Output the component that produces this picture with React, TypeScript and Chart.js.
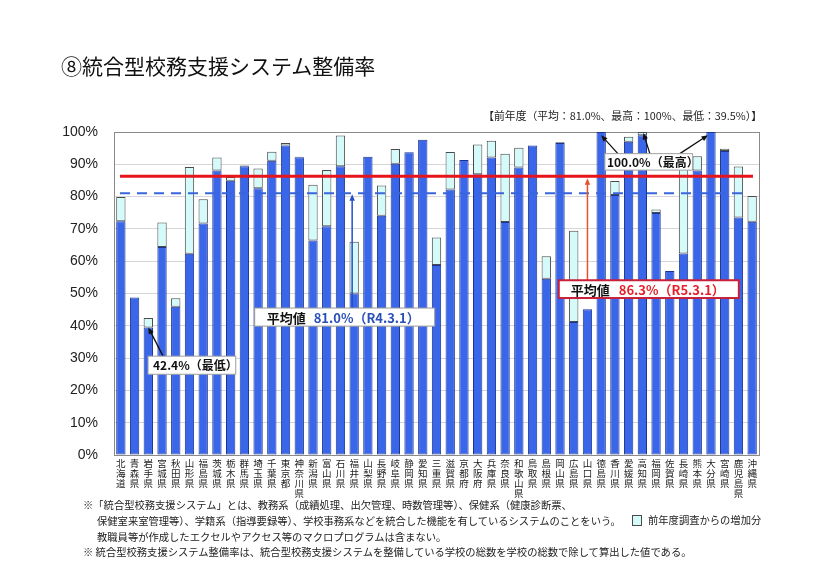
import React, { useEffect, useRef } from "react";
import { Chart, registerables } from "chart.js";

Chart.register(...registerables);

// ---- data ----
const prefectures = [
  "北海道", "青森県", "岩手県", "宮城県", "秋田県", "山形県", "福島県", "茨城県", "栃木県", "群馬県",
  "埼玉県", "千葉県", "東京都", "神奈川県", "新潟県", "富山県", "石川県", "福井県", "山梨県", "長野県",
  "岐阜県", "静岡県", "愛知県", "三重県", "滋賀県", "京都府", "大阪府", "兵庫県", "奈良県", "和歌山県",
  "鳥取県", "島根県", "岡山県", "広島県", "山口県", "徳島県", "香川県", "愛媛県", "高知県", "福岡県",
  "佐賀県", "長崎県", "熊本県", "大分県", "宮崎県", "鹿児島県", "沖縄県",
];

// 前年度 (R4.3.1) rate, %
const previousRates = [
  72.4, 48.8, 39.5, 64.4, 45.9, 62.3, 71.7, 88.1, 84.9, 89.4,
  82.6, 91.1, 95.8, 92.2, 66.4, 70.8, 89.4, 50.0, 92.3, 74.1,
  90.2, 93.7, 97.6, 58.8, 82.2, 91.3, 86.9, 92.1, 72.1, 89.0,
  95.8, 54.6, 96.6, 41.2, 45.1, 100.0, 80.5, 97.0, 99.0, 74.9,
  57.0, 62.4, 88.1, 100.0, 94.1, 73.5, 72.2,
];

// 今年度 (R5.3.1) rate, %
const currentRates = [
  79.9, 48.8, 42.4, 72.0, 48.5, 89.2, 79.2, 92.1, 86.1, 89.6,
  88.7, 93.9, 96.6, 92.3, 83.7, 88.2, 98.9, 66.0, 92.3, 83.4,
  94.7, 93.7, 97.6, 67.3, 93.8, 91.3, 96.1, 97.3, 93.3, 95.1,
  95.8, 61.5, 96.8, 69.4, 45.1, 100.0, 84.8, 98.5, 100.0, 76.0,
  57.0, 90.0, 92.5, 100.0, 94.8, 89.3, 80.2,
];

const increaseRates = currentRates.map((v, i) => {
  const d = Math.round((v - previousRates[i]) * 10) / 10;
  return d > 0 ? d : null;
});

const yTickValues = [0, 10, 20, 30, 40, 50, 60, 70, 80, 90, 100];

const CURRENT_AVERAGE = 86.3;
const PREVIOUS_AVERAGE = 81.0;
const HIGHEST_RATE = 100.0;
const LOWEST_RATE = 42.4;

const TITLE = "⑧統合型校務支援システム整備率";
const PREV_NOTE = "【前年度（平均：81.0%、最高：100%、最低：39.5%）】";
const NOTE_LINES = [
  "※「統合型校務支援システム」とは、教務系（成績処理、出欠管理、時数管理等）、保健系（健康診断票、",
  "保健室来室管理等）、学籍系（指導要録等）、学校事務系などを統合した機能を有しているシステムのことをいう。",
  "教職員等が作成したエクセルやアクセス等のマクロプログラムは含まない。",
  "※ 統合型校務支援システム整備率は、統合型校務支援システムを整備している学校の総数を学校の総数で除して算出した値である。",
];
const LEGEND_LABEL = "前年度調査からの増加分";

const BLUE = "#3a66ea";
const BLUE_BORDER = "#1c3590";
const CYAN = "#d4fafa";
const CYAN_BORDER = "#4a4a4a";
const JP = "'Noto Sans CJK JP', 'Noto Sans', sans-serif";

function drawArrow(ctx: CanvasRenderingContext2D, x1: number, y1: number, x2: number, y2: number, color: string, width: number, head: number) {
  const ang = Math.atan2(y2 - y1, x2 - x1);
  ctx.save();
  ctx.strokeStyle = color;
  ctx.fillStyle = color;
  ctx.lineWidth = width;
  ctx.beginPath();
  ctx.moveTo(x1, y1);
  ctx.lineTo(x2 - Math.cos(ang) * head * 0.8, y2 - Math.sin(ang) * head * 0.8);
  ctx.stroke();
  ctx.beginPath();
  ctx.moveTo(x2, y2);
  ctx.lineTo(x2 - head * Math.cos(ang - 0.4), y2 - head * Math.sin(ang - 0.4));
  ctx.lineTo(x2 - head * Math.cos(ang + 0.4), y2 - head * Math.sin(ang + 0.4));
  ctx.closePath();
  ctx.fill();
  ctx.restore();
}

function drawBox(ctx: CanvasRenderingContext2D, x0: number, y0: number, x1: number, y1: number, border: string, lw: number) {
  ctx.save();
  ctx.fillStyle = "#ffffff";
  ctx.fillRect(x0, y0, x1 - x0, y1 - y0);
  ctx.strokeStyle = border;
  ctx.lineWidth = lw;
  ctx.strokeRect(x0, y0, x1 - x0, y1 - y0);
  ctx.restore();
}

function drawParts(ctx: CanvasRenderingContext2D, x: number, y: number, parts: { text: string; color: string; gap: number }[], font: string) {
  ctx.save();
  ctx.font = font;
  ctx.textBaseline = "middle";
  ctx.textAlign = "left";
  let cx = x;
  for (const p of parts) {
    cx += p.gap;
    ctx.fillStyle = p.color;
    ctx.fillText(p.text, cx, y);
    cx += ctx.measureText(p.text).width;
  }
  ctx.restore();
}

const overlayPlugin = {
  id: "overlay",
  beforeDatasetsDraw(chart: any) {
    const { ctx, chartArea: a } = chart;
    ctx.save();
    ctx.strokeStyle = "#8a8a8a";
    ctx.lineWidth = 1;
    ctx.strokeRect(Math.round(a.left) + 0.5, Math.round(a.top) + 0.5, Math.round(a.right - a.left), Math.round(a.bottom - a.top));
    ctx.restore();
  },
  afterDatasetsDraw(chart: any) {
    const { ctx, chartArea: a, scales } = chart;
    const y = scales.y;
    const n = prefectures.length;
    const cw = (a.right - a.left) / n;
    const px = (idx: number) => a.left + (idx + 0.5) * cw;
    const py = (v: number) => y.getPixelForValue(v);

    // previous average dashed line
    ctx.save();
    ctx.strokeStyle = "#3a66dd";
    ctx.lineWidth = 2;
    ctx.setLineDash([10, 7]);
    ctx.beginPath();
    ctx.moveTo(a.left + 6, py(PREVIOUS_AVERAGE));
    ctx.lineTo(a.right - 11, py(PREVIOUS_AVERAGE));
    ctx.stroke();
    ctx.restore();

    // current average red line
    ctx.save();
    ctx.strokeStyle = "#e8141c";
    ctx.lineWidth = 3;
    ctx.beginPath();
    ctx.moveTo(a.left + 6, py(CURRENT_AVERAGE));
    ctx.lineTo(a.right - 6, py(CURRENT_AVERAGE));
    ctx.stroke();
    ctx.restore();

    // previous average label + arrow
    const fukui = prefectures.indexOf("福井県");
    const bx0 = px(9.75), bx1 = px(22.87), by0 = py(45.5), by1 = py(39.9);
    drawArrow(ctx, px(fukui) - 2, by0, px(fukui) - 2, py(PREVIOUS_AVERAGE) + 1, "#2350c8", 1.5, 7);
    drawBox(ctx, bx0, by0, bx1, by1, "#9a9a9a", 1);
    drawParts(ctx, bx0 + 12, (by0 + by1) / 2 + 0.5, [
      { text: "平均値", color: "#111", gap: 0 },
      { text: `${PREVIOUS_AVERAGE.toFixed(1)}%（R4.3.1）`, color: "#2a4fb8", gap: 8 },
    ], `bold 13px ${JP}`);

    // current average label + arrow
    const yamaguchi = prefectures.indexOf("山口県");
    const rx0 = px(31.91), rx1 = px(45.03), ry0 = py(54.1), ry1 = py(48.6);
    drawArrow(ctx, px(yamaguchi), ry0, px(yamaguchi), py(CURRENT_AVERAGE) + 2, "#e8502e", 1.5, 7);
    drawBox(ctx, rx0, ry0, rx1, ry1, "#c8203a", 2);
    drawParts(ctx, rx0 + 12, (ry0 + ry1) / 2 + 0.5, [
      { text: "平均値", color: "#111", gap: 0 },
      { text: `${CURRENT_AVERAGE.toFixed(1)}%（R5.3.1）`, color: "#e8202a", gap: 9 },
    ], `bold 13px ${JP}`);

    // highest label + arrows
    const mx0 = px(35.27), mx1 = px(41.66), my0 = py(93.3), my1 = py(88.2);
    const tops = ["徳島県", "高知県", "大分県"].map((p) => prefectures.indexOf(p));
    drawArrow(ctx, mx0 + 13, my0, px(tops[0]), py(HIGHEST_RATE - 1), "#111", 1.3, 7);
    drawArrow(ctx, mx0 + 45, my0, px(tops[1]) + 1, py(HIGHEST_RATE) + 1, "#111", 1.3, 7);
    drawArrow(ctx, mx0 + 75, my0, px(tops[2]) - 3, py(HIGHEST_RATE - 1), "#111", 1.3, 7);
    drawBox(ctx, mx0, my0, mx1, my1, "#a0a0a0", 1);
    drawParts(ctx, mx0 + 2, (my0 + my1) / 2 + 0.5, [
      { text: `${HIGHEST_RATE.toFixed(1)}%（最高）`, color: "#111", gap: 0 },
    ], `bold 12px ${JP}`);

    // lowest label + arrow
    const iwate = prefectures.indexOf("岩手県");
    const lx0 = px(1.98), lx1 = px(8.37), ly0 = py(30.6), ly1 = py(25.0);
    drawArrow(ctx, lx0 + 15, ly0, px(iwate), py(previousRates[iwate]), "#111", 1.3, 7);
    drawBox(ctx, lx0, ly0, lx1, ly1, "#a0a0a0", 1);
    drawParts(ctx, lx0 + 5, (ly0 + ly1) / 2 + 0.5, [
      { text: `${LOWEST_RATE.toFixed(1)}%（最低）`, color: "#111", gap: 0 },
    ], `bold 12px ${JP}`);
  },
};

export default function App() {
  const ref = useRef<HTMLCanvasElement | null>(null);

  useEffect(() => {
    if (!ref.current) return;
    const chart = new Chart(ref.current, {
      type: "bar",
      data: {
        labels: prefectures.map((p) => Array.from(p)),
        datasets: [
          {
            label: "前年度",
            data: previousRates,
            backgroundColor: BLUE,
            borderColor: BLUE_BORDER,
            borderWidth: 1,
            borderSkipped: false,
            barPercentage: 0.68,
            categoryPercentage: 1,
          },
          {
            label: LEGEND_LABEL,
            data: increaseRates,
            backgroundColor: CYAN,
            borderColor: CYAN_BORDER,
            borderWidth: 1,
            borderSkipped: false,
            barPercentage: 0.68,
            categoryPercentage: 1,
          },
        ],
      },
      options: {
        responsive: false,
        animation: false,
        devicePixelRatio: 1,
        layout: { padding: { left: 0, top: 132, right: 67, bottom: 0 } },
        plugins: {
          legend: { display: false },
          tooltip: { enabled: false },
          title: { display: false },
        },
        scales: {
          x: {
            stacked: true,
            grid: { display: false, drawTicks: false },
            border: { display: true, color: "#8a8a8a" },
            ticks: {
              autoSkip: false,
              maxRotation: 0,
              minRotation: 0,
              padding: 3,
              color: "#222",
              font: { family: JP, size: 9.5, lineHeight: 1.05 },
            },
            afterFit: (s: any) => {
              s.height = 116;
            },
          },
          y: {
            stacked: true,
            min: 0,
            max: 100,
            afterBuildTicks: (s: any) => {
              s.ticks = yTickValues.map((v) => ({ value: v }));
            },
            ticks: {
              padding: 16,
              color: "#222",
              font: { family: "'Liberation Sans', Arial, sans-serif", size: 14 },
              callback: (v: any) => `${v}%`,
            },
            grid: { color: "#d6d6d6", drawTicks: false },
            border: { display: true, color: "#8a8a8a" },
            afterFit: (s: any) => {
              s.width = 114;
            },
          },
        },
      },
      plugins: [overlayPlugin],
    });
    return () => chart.destroy();
  }, []);

  const noteStyle = (left: number, cy: number): React.CSSProperties => ({
    position: "absolute",
    left,
    top: cy - 8,
    height: 16,
    lineHeight: "16px",
    fontFamily: JP,
    fontSize: 10.3,
    color: "#222",
    whiteSpace: "nowrap",
  });

  return (
    <div style={{ position: "absolute", left: 0, top: 0, width: 826, height: 571, background: "#fff", overflow: "hidden" }}>
      <canvas ref={ref} width={826} height={571} style={{ position: "absolute", left: 0, top: 0, display: "block" }} />
      <div
        style={{
          position: "absolute",
          left: 61,
          top: 52,
          lineHeight: "26px",
          fontFamily: JP,
          fontSize: 21,
          color: "#111",
          whiteSpace: "nowrap",
        }}
      >
        {TITLE}
      </div>
      <div
        style={{
          position: "absolute",
          right: 64,
          top: 107,
          lineHeight: "16px",
          fontFamily: JP,
          fontSize: 10.8,
          color: "#222",
          whiteSpace: "nowrap",
        }}
      >
        {PREV_NOTE}
      </div>
      <div style={noteStyle(83, 505)}>{NOTE_LINES[0]}</div>
      <div style={noteStyle(97, 521)}>{NOTE_LINES[1]}</div>
      <div style={noteStyle(97, 537)}>{NOTE_LINES[2]}</div>
      <div style={noteStyle(83, 552)}>{NOTE_LINES[3]}</div>
      <div
        style={{
          position: "absolute",
          left: 632,
          top: 515,
          width: 8,
          height: 9,
          background: CYAN,
          border: `1px solid ${CYAN_BORDER}`,
        }}
      />
      <div style={noteStyle(648, 520)}>{LEGEND_LABEL}</div>
    </div>
  );
}
